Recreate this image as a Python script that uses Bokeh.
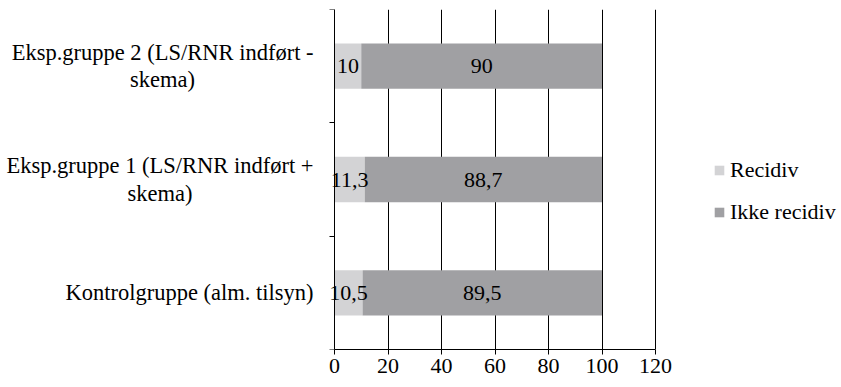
from bokeh.plotting import figure
from bokeh.models import (ColumnDataSource, FixedTicker, Legend, LegendItem,
                          LabelSet, Label, Range1d)
from bokeh.embed import file_html
from bokeh.resources import INLINE

# ---- data ----
categories = [
    "Kontrolgruppe (alm. tilsyn)",
    "Eksp.gruppe 1 (LS/RNR indført +\nskema)",
    "Eksp.gruppe 2 (LS/RNR indført -\nskema)",
]
recidiv = [10.5, 11.3, 10.0]
ikke_recidiv = [89.5, 88.7, 90.0]
series_names = ["Recidiv", "Ikke recidiv"]
x_ticks = [0, 20, 40, 60, 80, 100, 120]

# ---- style / layout ----
colors = ["#d3d3d5", "#a0a0a3"]
FONT = "'Liberation Serif', 'Times New Roman', serif"
FS_PX = 22
FS = f"{FS_PX}px"
CAT_FS_PX = 22.5
W, H = 841, 387
AX0, AXEND = 334, 655          # pixel position of first / last x tick
TOP, BOTTOM = 9, 349           # pixel top / bottom of plotting area
GAP = 21                       # gap between category labels and axis

scale = (AXEND - AX0) / (x_ticks[-1] - x_ticks[0])
x_start = x_ticks[0] - AX0 / scale
x_end = x_ticks[-1] + (W - AXEND) / scale

# Times / Liberation Serif advance widths (per 1000 em) for label centring
_W = {" ": 250, "(": 333, ")": 333, "+": 564, "-": 333, ".": 250, "/": 278,
      "1": 500, "2": 500, "E": 611, "K": 722, "L": 611, "N": 722, "R": 667,
      "S": 556, "a": 444, "d": 500, "e": 444, "f": 333, "g": 500, "i": 278,
      "k": 500, "l": 278, "m": 778, "n": 500, "o": 500, "p": 500, "r": 333,
      "s": 389, "t": 278, "u": 500, "y": 500, "ø": 500}


def text_w(s, fs):
    return max(sum(_W.get(ch, 500) for ch in line) for line in s.split("\n")) * fs / 1000


def fmt(v):
    return f"{v:g}".replace(".", ",")


ypos = [i + 0.5 for i in range(len(categories))]
totals = [r + k for r, k in zip(recidiv, ikke_recidiv)]
src = ColumnDataSource(dict(
    y=ypos,
    rec=recidiv,
    total=totals,
    rec_mid=[r / 2 for r in recidiv],
    ikke_mid=[r + k / 2 for r, k in zip(recidiv, ikke_recidiv)],
    rec_lbl=[fmt(v) for v in recidiv],
    ikke_lbl=[fmt(v) for v in ikke_recidiv],
))

p = figure(width=W, height=H,
           x_range=Range1d(x_start, x_end),
           y_range=Range1d(0, len(categories)),
           output_backend="svg", toolbar_location=None,
           min_border_left=0, min_border_right=0,
           min_border_top=TOP, min_border_bottom=H - BOTTOM)
p.outline_line_color = None
p.background_fill_color = "white"
p.border_fill_color = "white"

r1 = p.hbar(y="y", left=0, right="rec", height=0.4, source=src,
            fill_color=colors[0], line_color=None)
r2 = p.hbar(y="y", left="rec", right="total", height=0.4, source=src,
            fill_color=colors[1], line_color=None)

for col, lab in (("rec_mid", "rec_lbl"), ("ikke_mid", "ikke_lbl")):
    p.add_layout(LabelSet(x=col, y="y", text=lab, source=src,
                          text_align="center", text_baseline="middle",
                          text_font=FONT, text_font_size=FS,
                          text_color="black"))

# grid
p.xgrid.ticker = FixedTicker(ticks=x_ticks)
p.xgrid.grid_line_color = "black"
p.xgrid.grid_line_width = 1
p.xgrid.level = "underlay"
p.ygrid.visible = False

# x axis
xa = p.xaxis[0]
xa.ticker = FixedTicker(ticks=x_ticks)
xa.bounds = (x_ticks[0], x_ticks[-1])
xa.axis_line_color = "black"
xa.major_tick_line_color = "black"
xa.major_tick_out = 5
xa.major_tick_in = 0
xa.minor_tick_line_color = None
xa.major_label_text_font = FONT
xa.major_label_text_font_size = FS
xa.major_label_text_color = "black"
xa.major_label_standoff = 4

# y axis at x = 0, ticks at category boundaries
ya = p.yaxis[0]
ya.fixed_location = x_ticks[0]
ya.ticker = FixedTicker(ticks=ypos, minor_ticks=list(range(len(categories) + 1)))
ya.major_label_overrides = {y: "" for y in ypos}
ya.axis_line_color = "black"
ya.major_tick_line_color = None
ya.major_tick_out = 0
ya.major_tick_in = 0
ya.minor_tick_line_color = "black"
ya.minor_tick_out = 5
ya.minor_tick_in = 0

for y, c in zip(ypos, categories):
    p.add_layout(Label(x=x_ticks[0] - (GAP + text_w(c, CAT_FS_PX) / 2) / scale,
                       y=y, text=c,
                       text_align="center", text_baseline="middle",
                       text_font=FONT, text_font_size=f"{CAT_FS_PX}px",
                       text_line_height=1.1, text_color="black"))

legend = Legend(items=[LegendItem(label=series_names[0], renderers=[r1]),
                       LegendItem(label=series_names[1], renderers=[r2])],
                location=(713, 124), orientation="vertical",
                label_text_font=FONT, label_text_font_size=FS,
                label_text_color="black",
                glyph_width=12, glyph_height=12, label_height=22,
                label_standoff=5, spacing=16, padding=0, margin=0,
                border_line_color=None, background_fill_alpha=0)
p.add_layout(legend, "center")

open("out.html", "w").write(file_html(p, INLINE))
